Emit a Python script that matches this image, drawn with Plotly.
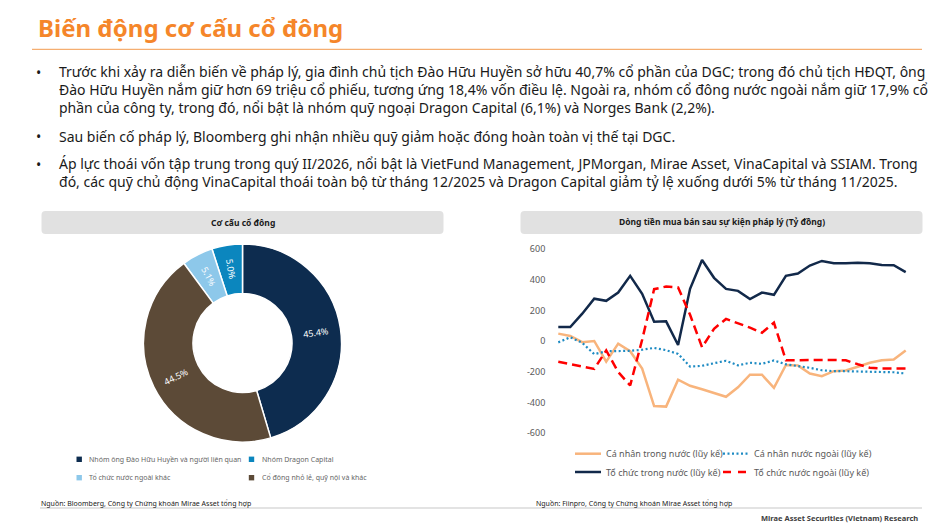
import math
import plotly.graph_objects as go

W, H = 951, 532


def px(x):
    return x / W


def py(y):
    return 1 - y / H


FONT = "Noto Sans"

# ---------------- data ----------------
title_text = "Biến động cơ cấu cổ đông"
bullet_lines = [
    ["Trước khi xảy ra diễn biến về pháp lý, gia đình chủ tịch Đào Hữu Huyền sở hữu 40,7% cổ phần của DGC; trong đó chủ tịch HĐQT, ông",
     "Đào Hữu Huyền nắm giữ hơn 69 triệu cổ phiếu, tương ứng 18,4% vốn điều lệ. Ngoài ra, nhóm cổ đông nước ngoài nắm giữ 17,9% cổ",
     "phần của công ty, trong đó, nổi bật là nhóm quỹ ngoại Dragon Capital (6,1%) và Norges Bank (2,2%)."],
    ["Sau biến cố pháp lý, Bloomberg ghi nhận nhiều quỹ giảm hoặc đóng hoàn toàn vị thế tại DGC."],
    ["Áp lực thoái vốn tập trung trong quý II/2026, nổi bật là VietFund Management, JPMorgan, Mirae Asset, VinaCapital và SSIAM. Trong",
     "đó, các quỹ chủ động VinaCapital thoái toàn bộ từ tháng 12/2025 và Dragon Capital giảm tỷ lệ xuống dưới 5% từ tháng 11/2025."],
]

pie_title = "Cơ cấu cổ đông"
pie_labels = ["Nhóm ông Đào Hữu Huyền và người liên quan", "Nhóm Dragon Capital",
              "Tổ chức nước ngoài khác", "Cổ đông nhỏ lẻ, quỹ nội và khác"]
pie_values = [45.4, 5.0, 5.1, 44.5]
pie_colors = ["#0D2C4F", "#0B86BE", "#8DC8EA", "#5C4A37"]

line_title = "Dòng tiền mua bán sau sự kiện pháp lý (Tỷ đồng)"
periods = list(range(1, 31))  # unlabeled observation points on the x-axis
ca_nhan_trong_nuoc = [50, 35, -6, 2, -133, -15, -65, -178, -422, -426, -250, -290, -313, -340, -362,
                      -300, -218, -218, -303, -154, -157, -210, -227, -195, -190, -166, -140, -123, -119, -60]
ca_nhan_nuoc_ngoai = [-7, 26, -10, -84, -65, -65, -62, -55, -43, -58, -82, -165, -160, -143, -127,
                      -157, -140, -147, -125, -150, -160, -173, -189, -195, -195, -196, -197, -199, -202, -210]
to_chuc_trong_nuoc = [93, 93, 180, 278, 264, 318, 427, 310, 128, 130, -24, 342, 530, 414, 342,
                      329, 275, 318, 303, 427, 442, 494, 524, 509, 509, 512, 509, 498, 496, 451]
to_chuc_nuoc_ngoai = [-134, -150, -165, -180, -60, -200, -288, 10, 340, 357, 351, 173, -39, 82, 146,
                      119, 89, 56, 121, -124, -122, -122, -122, -122, -124, -150, -172, -177, -177, -177]
series_names = ["Cá nhân trong nước (lũy kế)", "Cá nhân nước ngoài (lũy kế)",
                "Tổ chức trong nước (lũy kế)", "Tổ chức nước ngoài (lũy kế)"]
y_ticks = [600, 400, 200, 0, -200, -400, -600]
y_tick_text = ["600", "400", "200", "0", "-200", "-400", "-600"]

source_left = "Nguồn: Bloomberg, Công ty Chứng khoán Mirae Asset tổng hợp"
source_right = "Nguồn: Fiinpro, Công ty Chứng khoán Mirae Asset tổng hợp"
footer = "Mirae Asset Securities (Vietnam) Research"

# ---------------- figure ----------------
fig = go.Figure()

PIE_CX, PIE_CY, PIE_R = 242.5, 343.0, 99.0
PIE_HOLE = 0.5

# donut (first slice clockwise from 12 o'clock, the rest counter-clockwise)
fig.add_trace(go.Pie(
    values=pie_values, labels=pie_labels, sort=False,
    direction="counterclockwise", rotation=0,
    hole=PIE_HOLE,
    marker=dict(colors=pie_colors, line=dict(color="white", width=1.5)),
    textinfo="none",
    domain=dict(x=[px(PIE_CX - PIE_R), px(PIE_CX + PIE_R)],
                y=[py(PIE_CY + PIE_R), py(PIE_CY - PIE_R)]),
    showlegend=False,
))

# lines
styles = [
    dict(color="#F8B47C", width=2.5, dash="solid"),
    dict(color="#1E8BC3", width=2.2, dash="2px,2.5px"),
    dict(color="#12294A", width=2.5, dash="solid"),
    dict(color="#FF0000", width=2.5, dash="9px,5px"),
]
for name, vals, st in zip(series_names,
                          [ca_nhan_trong_nuoc, ca_nhan_nuoc_ngoai, to_chuc_trong_nuoc, to_chuc_nuoc_ngoai],
                          styles):
    fig.add_trace(go.Scatter(x=periods, y=vals, mode="lines", name=name, line=st,
                             xaxis="x", yaxis="y", showlegend=False))

x0p, x1p = 552.3, 911.7
fig.update_layout(
    width=W, height=H,
    margin=dict(l=0, r=0, t=0, b=0, pad=0, autoexpand=False),
    paper_bgcolor="white", plot_bgcolor="white",
    font=dict(family=FONT, color="#595959"),
    xaxis=dict(domain=[px(x0p), px(x1p)], range=[0.5, 30.5], visible=False,
               showgrid=False, zeroline=False),
    yaxis=dict(domain=[py(433.3), py(249.3)], range=[-600, 600], tickvals=y_ticks,
               ticktext=y_tick_text, showgrid=False, zeroline=False, showline=False,
               ticks="", ticklabelstandoff=6, automargin=False,
               tickfont=dict(size=9, color="#595959", family=FONT)),
    showlegend=False,
)


def rrect_path(x0, y0, x1, y1, r):
    def P(x, y):
        return f"{x / W:.5f},{1 - y / H:.5f}"
    return (f"M{P(x0 + r, y0)} L{P(x1 - r, y0)} Q{P(x1, y0)} {P(x1, y0 + r)} "
            f"L{P(x1, y1 - r)} Q{P(x1, y1)} {P(x1 - r, y1)} L{P(x0 + r, y1)} "
            f"Q{P(x0, y1)} {P(x0, y1 - r)} L{P(x0, y0 + r)} Q{P(x0, y0)} {P(x0 + r, y0)} Z")


shapes = [
    dict(type="line", xref="paper", yref="paper", x0=px(32), x1=px(922), y0=py(49.3), y1=py(49.3),
         line=dict(color="#F39A4E", width=1)),
    dict(type="path", xref="paper", yref="paper", path=rrect_path(41.5, 211, 443.5, 234, 4),
         fillcolor="#E1E1E1", line=dict(width=0), layer="below"),
    dict(type="path", xref="paper", yref="paper", path=rrect_path(520.5, 211, 922.5, 234, 4),
         fillcolor="#E1E1E1", line=dict(width=0), layer="below"),
    dict(type="line", xref="paper", yref="paper", x0=px(40), x1=px(922), y0=py(508), y1=py(508),
         line=dict(color="#C8C8C8", width=1.2)),
]

annotations = [
    dict(text=f"<b>{title_text}</b>", x=px(36), y=py(27.5), xanchor="left", yanchor="middle",
         font=dict(size=24, color="#F5862A", family=FONT)),
    dict(text=f"<b>{pie_title}</b>", x=px(242.5), y=py(222.5), xanchor="center", yanchor="middle",
         font=dict(size=8.5, color="#1A1A1A", family=FONT)),
    dict(text=f"<b>{line_title}</b>", x=px(721.5), y=py(222.5), xanchor="center", yanchor="middle",
         font=dict(size=8.5, color="#1A1A1A", family=FONT)),
    dict(text=source_left, x=px(39), y=py(503), xanchor="left", yanchor="middle",
         font=dict(size=7, color="#1A1A1A", family=FONT)),
    dict(text=source_right, x=px(533.5), y=py(503), xanchor="left", yanchor="middle",
         font=dict(size=7, color="#1A1A1A", family=FONT)),
    dict(text=f"<b>{footer}</b>", x=px(920), y=py(518), xanchor="right", yanchor="middle",
         font=dict(size=7.5, color="#404040", family=FONT)),
]

# bullets: one multi-line text block per bullet (vertical centre of the block given)
bullet_first_y = [72.7, 136.0, 164.0]
line_step = 14 * 1.3
for lines, y_first in zip(bullet_lines, bullet_first_y):
    annotations.append(dict(text="•", x=px(38), y=py(y_first), xanchor="center", yanchor="middle",
                            font=dict(size=14, color="#1A1A1A", family=FONT)))
    y_center = y_first + line_step * (len(lines) - 1) / 2 - 0.5 * (len(lines) - 1)
    annotations.append(dict(text="<br>".join(lines), x=px(57), y=py(y_center), xanchor="left",
                            yanchor="middle", align="left",
                            font=dict(size=14, color="#1A1A1A", family=FONT)))

# radial percentage labels placed at each slice's mid-angle (derived from the values)
total = sum(pie_values)
r_mid = PIE_R * (1 + PIE_HOLE) / 2
angles = []
first_span = pie_values[0] / total * 360
angles.append(first_span / 2)
cum = 0.0
for v in pie_values[1:]:
    span = v / total * 360
    angles.append(-(cum + span / 2))
    cum += span
for v, a in zip(pie_values, angles):
    a_n = a % 360
    tx = PIE_CX + r_mid * math.sin(math.radians(a_n))
    ty = PIE_CY - r_mid * math.cos(math.radians(a_n))
    rot = a_n - 90 if a_n < 180 else a_n - 270
    annotations.append(dict(text=f"{v:.1f}%", x=px(tx), y=py(ty), xanchor="center",
                            yanchor="middle", textangle=rot,
                            font=dict(size=9, color="white", family=FONT)))

# manual legend for the donut
leg_x = [79.2, 251.5]
leg_y = [459.3, 477.7]
for i, (lab, col) in enumerate(zip(pie_labels, pie_colors)):
    cx, cy = leg_x[i % 2], leg_y[i // 2]
    shapes.append(dict(type="rect", xref="paper", yref="paper",
                       x0=px(cx - 2.7), x1=px(cx + 2.7), y0=py(cy + 2.7), y1=py(cy - 2.7),
                       fillcolor=col, line=dict(width=0)))
    annotations.append(dict(text=lab, x=px(cx + 8), y=py(cy), xanchor="left", yanchor="middle",
                            font=dict(size=7, color="#666666", family=FONT)))

# manual legend for the line chart
lleg_x = [575, 723]
lleg_y = [453.7, 472.0]
legend_dash = ["solid", "2px,2.5px", "solid", "8px,7px"]
for i, (name, st, dsh) in enumerate(zip(series_names, styles, legend_dash)):
    lx, ly = lleg_x[i % 2], lleg_y[i // 2]
    shapes.append(dict(type="line", xref="paper", yref="paper",
                       x0=px(lx), x1=px(lx + 26), y0=py(ly), y1=py(ly),
                       line=dict(color=st["color"], width=st["width"], dash=dsh)))
    annotations.append(dict(text=name, x=px(lx + 29), y=py(ly), xanchor="left", yanchor="middle",
                            font=dict(size=9, color="#595959", family=FONT)))

for a in annotations:
    a.update(xref="paper", yref="paper", showarrow=False)

fig.update_layout(shapes=shapes, annotations=annotations)
fig.write_html("out.html", config={"displayModeBar": False},
               post_script="document.body.style.margin='0px';document.body.style.overflow='hidden';")
